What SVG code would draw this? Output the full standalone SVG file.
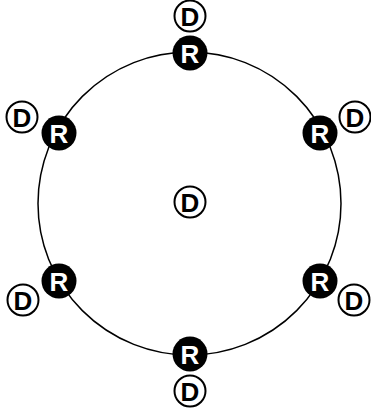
<svg xmlns="http://www.w3.org/2000/svg" width="371" height="419" viewBox="0 0 371 419">
<style>
.ring{fill:none;stroke:#000;stroke-width:1.5}
.r circle{fill:#000}
.r text{fill:#fff}
.d circle{fill:#fff;stroke:#000;stroke-width:2}
.d text{fill:#000}
text{font-family:"Liberation Sans",Arial,sans-serif;font-weight:bold;font-size:26px;text-anchor:middle;dominant-baseline:central}
</style>
<rect width="371" height="419" fill="#fff"/>
<g id="connectors">
<circle class="ring" cx="189.5" cy="203.5" r="151.5"/>
</g>
<g id="r-top" class="r"><circle cx="190" cy="53" r="17.5"/><text x="190" y="54">R</text></g>
<g id="r-ul" class="r"><circle cx="59" cy="133" r="17.5"/><text x="59" y="134">R</text></g>
<g id="r-ur" class="r"><circle cx="320" cy="133" r="17.5"/><text x="320" y="134">R</text></g>
<g id="r-ll" class="r"><circle cx="59" cy="281" r="17.5"/><text x="59" y="282">R</text></g>
<g id="r-lr" class="r"><circle cx="320" cy="281" r="17.5"/><text x="320" y="282">R</text></g>
<g id="r-bot" class="r"><circle cx="190" cy="354" r="17.5"/><text x="190" y="355">R</text></g>
<g id="d-top" class="d"><circle cx="190" cy="16" r="15.5"/><text x="190" y="17">D</text></g>
<g id="d-ul" class="d"><circle cx="22" cy="117" r="15.5"/><text x="22" y="118">D</text></g>
<g id="d-ur" class="d"><circle cx="355" cy="117" r="15.5"/><text x="355" y="118">D</text></g>
<g id="d-center" class="d"><circle cx="190" cy="202" r="15.5"/><text x="190" y="203">D</text></g>
<g id="d-ll" class="d"><circle cx="23" cy="300" r="15.5"/><text x="23" y="301">D</text></g>
<g id="d-lr" class="d"><circle cx="354" cy="300" r="15.5"/><text x="354" y="301">D</text></g>
<g id="d-bot" class="d"><circle cx="190" cy="391" r="15.5"/><text x="190" y="392">D</text></g>
</svg>
